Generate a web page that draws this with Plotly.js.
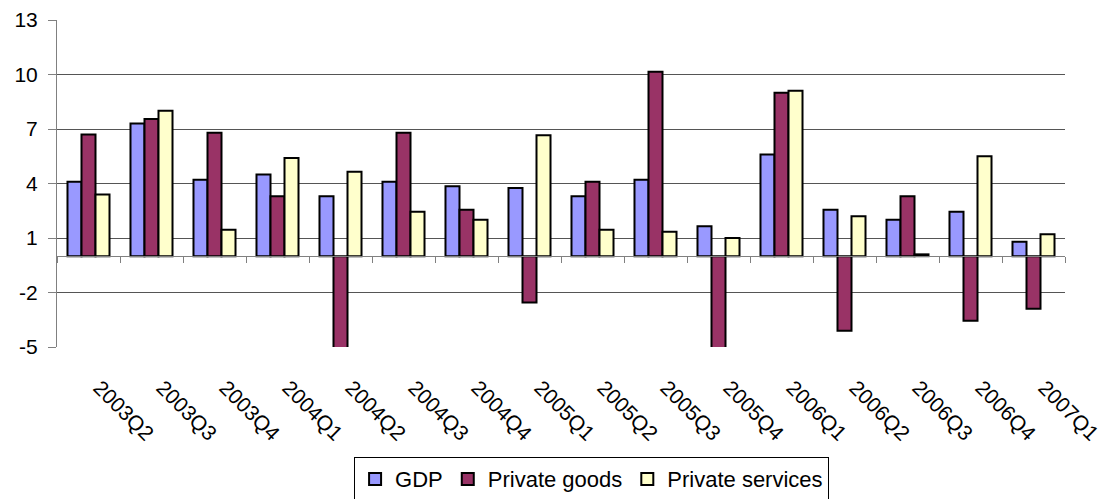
<!DOCTYPE html>
<html>
<head>
<meta charset="utf-8">
<script src="https://cdn.plot.ly/plotly-3.0.1.min.js"></script>
<style>html,body{margin:0;padding:0;background:#fff;}#chart{width:1112px;height:499px;}</style>
</head>
<body>
<div id="chart"></div>
<script>
const quarters = ["2003Q2","2003Q3","2003Q4","2004Q1","2004Q2","2004Q3","2004Q4","2005Q1","2005Q2","2005Q3","2005Q4","2006Q1","2006Q2","2006Q3","2006Q4","2007Q1"];
const gdp = [4.1, 7.3, 4.2, 4.5, 3.3, 4.1, 3.85, 3.75, 3.3, 4.2, 1.65, 5.6, 2.55, 2.0, 2.45, 0.8];
const privateGoods = [6.7, 7.55, 6.8, 3.3, -6.0, 6.8, 2.55, -2.55, 4.1, 10.15, -6.0, 9.0, -4.1, 3.3, -3.55, -2.9];
const privateServices = [3.4, 8.0, 1.45, 5.4, 4.65, 2.45, 2.0, 6.65, 1.45, 1.35, 1.0, 9.1, 2.2, 0.1, 5.5, 1.2];
const seriesNames = ["GDP", "Private goods", "Private services"];
const seriesColors = ["#9999FF", "#993366", "#FFFFCC"];
const yTicks = [-5, -2, 1, 4, 7, 10, 13];

const allValues = [gdp, privateGoods, privateServices];
const traces = allValues.map((vals, i) => ({
  type: "bar",
  name: seriesNames[i],
  x: quarters,
  y: vals,
  marker: {color: seriesColors[i], line: {color: "#000", width: 2}}
}));

const font = "Liberation Sans, Arial, sans-serif";
const layout = {
  width: 1112, height: 499,
  paper_bgcolor: "#fff", plot_bgcolor: "#fff",
  margin: {l: 57, r: 47, t: 20, b: 152},
  barmode: "group",
  bargap: 0.333, bargroupgap: 0,
  font: {family: font, color: "#000", size: 20},
  showlegend: true,
  legend: {
    orientation: "h", xref: "container", yref: "container",
    x: 0.532, xanchor: "center", y: 0.084, yanchor: "top",
    bordercolor: "#000", borderwidth: 1, bgcolor: "#fff",
    font: {family: font, size: 22, color: "#000"},
    traceorder: "normal", itemclick: false
  },
  xaxis: {
    type: "category", range: [-0.5, 15.5],
    anchor: "free", position: 5/18,
    showline: true, linecolor: "#808080", linewidth: 1,
    ticks: "outside", tickson: "boundaries", ticklen: 6, tickcolor: "#808080",
    showgrid: false, zeroline: false,
    tickangle: 45, tickfont: {family: font, size: 21, color: "#000"},
    ticklabelstandoff: 110, ticklabelshift: 11
  },
  yaxis: {
    range: [-5, 13], tickvals: yTicks, ticktext: yTicks.map(String),
    showline: true, linecolor: "#808080", linewidth: 1,
    ticks: "outside", ticklen: 8, tickcolor: "#808080",
    showgrid: true, gridcolor: "#555", gridwidth: 1,
    zeroline: false,
    tickfont: {family: font, size: 21, color: "#000"},
    ticklabelstandoff: 6
  }
};

Plotly.newPlot("chart", traces, layout, {displayModeBar: false, staticPlot: true});
</script>
</body>
</html>
